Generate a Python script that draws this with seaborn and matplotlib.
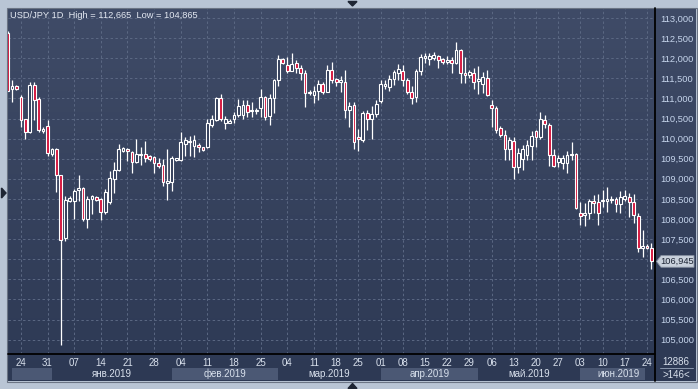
import numpy as np
import pandas as pd
import matplotlib
matplotlib.use("Agg")
import matplotlib.pyplot as plt
import matplotlib.transforms as mtransforms
from matplotlib.colors import LinearSegmentedColormap
from matplotlib.patches import Rectangle, Polygon
from matplotlib.lines import Line2D
import seaborn as sns

# daily USD/JPY bars (bar index 0..145)
opens = [112.63, 111.23, 111.30, 111.03, 110.49, 110.16, 111.33, 110.98, 110.20, 110.31,
         109.61, 109.74, 109.09, 107.52, 108.46, 108.44, 108.71, 108.76, 108.00, 108.49,
         108.54, 108.51, 108.18, 108.43, 108.99, 109.22, 109.70, 109.74, 109.67, 109.43,
         109.60, 109.62, 109.56, 109.55, 109.40, 109.34, 108.90, 108.93, 109.47, 109.47,
         109.87, 109.95, 109.82, 109.84, 109.78, 109.80, 110.35, 110.46, 111.00, 110.40,
         110.39, 110.50, 110.58, 110.59, 110.84, 110.68, 110.68, 110.75, 111.03, 110.56,
         111.00, 111.46, 111.97, 111.83, 111.69, 111.89, 111.75, 111.62, 111.13, 111.08,
         111.19, 111.36, 111.17, 111.71, 111.48, 111.40, 111.42, 110.71, 110.84, 110.03,
         109.97, 110.63, 110.50, 110.61, 110.94, 111.31, 111.28, 111.48, 111.64, 111.68,
         111.47, 111.17, 111.03, 111.69, 112.00, 111.98, 112.00, 112.05, 111.98, 111.91,
         111.95, 111.89, 112.20, 111.64, 111.58, 111.64, 111.43, 111.36, 111.50, 110.84,
         110.75, 110.26, 110.09, 109.73, 109.95, 109.30, 109.50, 109.60, 109.82, 110.20,
         110.05, 110.46, 110.34, 109.59, 109.43, 109.40, 109.39, 109.58, 109.61, 108.16,
         108.09, 108.14, 108.46, 108.42, 108.44, 108.44, 108.47, 108.49, 108.37, 108.51,
         108.54, 108.43, 108.07, 107.27, 107.33, 107.29]
highs = [112.665, 111.46, 111.33, 111.09, 110.50, 111.42, 111.42, 111.04, 110.30, 110.46,
         109.76, 109.76, 109.10, 108.57, 108.57, 108.74, 109.09, 108.80, 108.57, 108.60,
         108.57, 108.52, 108.74, 109.19, 109.41, 109.87, 109.80, 109.76, 109.70, 109.99,
         109.80, 109.95, 109.60, 109.57, 109.51, 109.49, 109.73, 109.57, 109.53, 110.16,
         110.03, 110.07, 110.09, 109.88, 109.80, 110.50, 110.58, 111.04, 111.10, 110.55,
         110.48, 110.65, 110.98, 110.96, 110.96, 110.90, 110.75, 111.23, 111.05, 111.10,
         111.48, 112.08, 112.00, 112.02, 112.14, 111.95, 111.83, 111.71, 111.21, 111.31,
         111.46, 111.40, 111.83, 111.91, 111.52, 111.56, 111.71, 110.90, 110.90, 110.23,
         110.69, 110.71, 110.80, 110.95, 111.46, 111.45, 111.58, 111.71, 111.86, 111.83,
         111.52, 111.31, 111.73, 112.10, 112.12, 112.12, 112.16, 112.07, 112.00, 112.05,
         112.04, 112.40, 112.22, 112.02, 111.71, 111.75, 111.80, 111.66, 111.71, 110.96,
         110.81, 110.31, 110.21, 110.05, 110.05, 109.76, 109.84, 109.97, 110.20, 110.21,
         110.67, 110.59, 110.38, 109.73, 109.59, 109.59, 109.70, 109.92, 109.64, 108.43,
         108.39, 108.49, 108.60, 108.62, 108.72, 108.80, 108.57, 108.54, 108.70, 108.72,
         108.64, 108.62, 108.14, 107.73, 107.38, 107.41]
lows = [111.19, 110.92, 111.20, 110.29, 110.00, 110.15, 110.46, 110.17, 110.15, 109.57,
        109.57, 108.66, 104.865, 107.46, 108.43, 107.99, 108.44, 107.96, 107.77, 108.12,
        108.44, 107.97, 108.12, 108.37, 108.65, 109.19, 109.66, 109.45, 109.14, 109.40,
        109.35, 109.43, 109.45, 109.15, 109.26, 108.82, 108.47, 108.70, 109.45, 109.45,
        109.57, 109.57, 109.55, 109.67, 109.69, 109.76, 110.30, 110.44, 110.45, 110.25,
        110.38, 110.40, 110.53, 110.48, 110.54, 110.54, 110.62, 110.54, 110.46, 110.34,
        110.63, 111.32, 111.86, 111.64, 111.67, 111.62, 111.46, 110.79, 111.08, 110.88,
        110.96, 111.12, 111.15, 111.38, 111.31, 111.17, 110.51, 110.30, 109.74, 109.70,
        109.92, 110.21, 110.00, 110.53, 110.88, 111.23, 111.19, 111.33, 111.47, 111.31,
        111.10, 110.86, 110.92, 111.58, 111.87, 111.83, 111.95, 111.75, 111.85, 111.85,
        111.64, 111.85, 111.38, 111.39, 111.50, 111.23, 111.10, 111.13, 111.06, 110.30,
        110.15, 110.05, 109.47, 109.47, 109.00, 109.14, 109.22, 109.47, 109.47, 109.78,
        110.00, 110.26, 109.32, 109.29, 109.30, 109.24, 109.15, 109.47, 108.24, 107.85,
        107.82, 107.99, 108.14, 107.85, 108.31, 108.18, 108.39, 108.18, 108.14, 108.45,
        108.06, 107.91, 107.19, 107.05, 107.25, 106.76]
closes = [111.19, 111.31, 111.24, 110.46, 110.16, 111.33, 110.96, 110.21, 110.25, 109.63,
          109.73, 109.09, 107.49, 108.47, 108.52, 108.70, 108.77, 107.99, 108.50, 108.56,
          108.47, 108.18, 108.68, 109.01, 109.22, 109.74, 109.77, 109.68, 109.41, 109.62,
          109.62, 109.51, 109.49, 109.39, 109.33, 108.93, 108.94, 109.51, 109.51, 109.91,
          109.97, 109.91, 109.97, 109.78, 109.72, 110.40, 110.49, 111.00, 110.50, 110.50,
          110.45, 110.59, 110.80, 110.84, 110.67, 110.71, 110.70, 111.03, 110.54, 111.00,
          111.46, 111.97, 111.89, 111.69, 111.86, 111.75, 111.62, 111.13, 111.17, 111.19,
          111.36, 111.17, 111.71, 111.47, 111.42, 111.45, 110.71, 110.80, 109.92, 109.98,
          110.63, 110.50, 110.61, 110.86, 111.35, 111.37, 111.48, 111.66, 111.72, 111.47,
          111.17, 111.00, 111.69, 112.04, 112.05, 112.05, 112.08, 111.95, 111.91, 111.95,
          111.87, 112.20, 111.64, 111.58, 111.65, 111.42, 111.48, 111.54, 111.08, 110.76,
          110.21, 110.10, 109.73, 109.97, 109.29, 109.63, 109.73, 109.84, 110.06, 110.05,
          110.48, 110.36, 109.59, 109.31, 109.51, 109.52, 109.59, 109.61, 108.27, 108.07,
          108.15, 108.46, 108.40, 108.14, 108.47, 108.51, 108.51, 108.37, 108.55, 108.57,
          108.43, 108.10, 107.27, 107.33, 107.28, 106.945]

# time axis: bar index of each weekly label and its day number
tick_bars = [3, 9, 15, 21, 27, 33, 39, 45, 51, 57, 63, 69, 74, 79, 84, 89, 94, 99,
             104, 109, 114, 119, 124, 129, 134, 139, 144]
tick_days = ["24", "31", "07", "14", "21", "28", "04", "11", "18", "25", "04", "11",
             "18", "25", "01", "08", "15", "22", "29", "06", "13", "20", "27", "03",
             "10", "17", "24"]
month_names = ["", "янв.2019", "фев.2019", "мар.2019", "апр.2019", "май.2019", "июн.2019"]
month_start = [1, 10, 37, 61, 84, 106, 129]
price_ticks = np.arange(105.0, 113.01, 0.5)
bars_visible = 146
volume_label = "12886"

df = pd.DataFrame({"open": opens, "high": highs, "low": lows, "close": closes})
df["bar"] = np.arange(len(df))
df["up"] = df["close"] >= df["open"]

sns.set_theme(style="dark")
plt.rcParams["font.family"] = ["Liberation Sans", "DejaVu Sans"]

W, H = 698, 389
def fx(px):
    return px / W
def fy(py):
    return 1 - py / H

fig = plt.figure(figsize=(W / 100, H / 100), dpi=100)
fig.patch.set_facecolor("#b9c5d5")

# navy gradient panel behind chart + price scale + time scale
bg = fig.add_axes([fx(8), fy(381), (696 - 8) / W, (381 - 8) / H])
grad = np.linspace(0, 1, 256).reshape(-1, 1)
cmap = LinearSegmentedColormap.from_list("bg", ["#3f4b67", "#2d3954"])
bg.imshow(grad, aspect="auto", cmap=cmap, extent=[0, 1, 0, 1], origin="upper")
bg.set_axis_off()

ymin, ymax = 104.642, 113.249
ax = fig.add_axes([fx(8), fy(354), 647 / W, 346 / H])
ax.set_facecolor("none")
ax.set_xlim(0.1, 145.8)
ax.set_ylim(ymin, ymax)

last = closes[-1]
ax.set_yticks(price_ticks)
# the tick nearest to the last-price marker is hidden behind it
ax.set_yticklabels(["" if abs(v - last) < 0.25 else f"{v:.3f}".replace(".", ",")
                    for v in price_ticks])
ax.yaxis.tick_right()
ax.set_xticks(tick_bars)
ax.set_xticklabels(tick_days)
ax.grid(True, color="#5b6883", linestyle=(0, (2.5, 2.5)), linewidth=0.7)
ax.tick_params(axis="y", length=0, pad=4, labelsize=6.7, labelcolor="#c6d5ec")
ax.tick_params(axis="x", length=0, pad=3, labelsize=7.0, labelcolor="#d8e0ec")
for s in ax.spines.values():
    s.set_visible(False)

# candles
bw = 0.62
top = df[["open", "close"]].max(axis=1)
bot = df[["open", "close"]].min(axis=1)
ax.vlines(df["bar"], top, df["high"], color="white", lw=0.9, zorder=3)
ax.vlines(df["bar"], df["low"], bot, color="white", lw=0.9, zorder=3)
for b, t, lo, up in zip(df["bar"], top, bot, df["up"]):
    face = "#2f3b57" if up else "#d4143c"
    ax.add_patch(Rectangle((b - bw / 2, lo), bw, max(t - lo, 0.015),
                           facecolor=face, edgecolor="white", lw=0.8, zorder=4))

# month bands under the day labels
tr = mtransforms.blended_transform_factory(ax.transData, fig.transFigure)
month_end = month_start[1:] + [bars_visible]
for i, (m, s, e) in enumerate(zip(month_names, month_start, month_end)):
    if i % 2 == 0:
        ax.add_patch(Rectangle((s, fy(380)), min(e, 143.5) - s, 12 / H, transform=tr,
                               facecolor="#4b5874", edgecolor="none", clip_on=False))
    if m:
        ax.text((s + e) / 2, fy(374), m, transform=tr, ha="center", va="center",
                fontsize=7.0, color="#d8e0ec", clip_on=False)

# separating lines
fig.add_artist(Line2D([fx(8), fx(655)], [fy(354), fy(354)], color="black", lw=1.3))
fig.add_artist(Line2D([fx(655), fx(655)], [fy(8), fy(381)], color="black", lw=1.3))
fig.add_artist(Rectangle((fx(7.5), fy(381.5)), 689 / W, 374 / H, transform=fig.transFigure,
                         facecolor="none", edgecolor="#6b7484", lw=0.8))

# title
title = "USD/JPY 1D  High = {}  Low = {}".format(
    f"{max(highs):.3f}".replace(".", ","), f"{min(lows):.3f}".replace(".", ","))
fig.text(fx(10), fy(15), title, fontsize=6.7, color="#e4e9f2", va="center", ha="left")

# last price marker
ptr = mtransforms.blended_transform_factory(fig.transFigure, ax.transData)
hh = 5.8 / 346 * (ymax - ymin)
ax.add_patch(Polygon([(fx(656.5), last), (fx(661), last + hh), (fx(694), last + hh),
                      (fx(694), last - hh), (fx(661), last - hh)], closed=True,
                     transform=ptr, facecolor="#c9d1dc", edgecolor="#8a94a4", lw=0.6,
                     clip_on=False, zorder=6))
ax.text(fx(677.5), last, f"{last:.3f}".replace(".", ","), transform=ptr, ha="center",
        va="center", fontsize=6.7, color="#1c2434", clip_on=False, zorder=7)

# bottom-right counters
fig.text(fx(676), fy(362), volume_label, fontsize=7.0, color="#d8e0ec", ha="center", va="center")
fig.add_artist(Line2D([fx(660), fx(693)], [fy(368), fy(368)], color="#8a97ad", lw=0.7))
fig.text(fx(676), fy(375), f">{bars_visible}<", fontsize=7.0, color="#d8e0ec", ha="center", va="center")

# little scroll arrows on the frame
dark = "#1e2533"
fig.add_artist(Polygon([(fx(348), fy(1.5)), (fx(357), fy(1.5)), (fx(352.5), fy(6))],
                       closed=True, transform=fig.transFigure, color=dark))
fig.add_artist(Polygon([(fx(348), fy(388.5)), (fx(357), fy(388.5)), (fx(352.5), fy(383.5))],
                       closed=True, transform=fig.transFigure, color=dark))
fig.add_artist(Polygon([(fx(1.5), fy(188)), (fx(1.5), fy(198)), (fx(6), fy(193))],
                       closed=True, transform=fig.transFigure, color=dark))

fig.savefig("out.png", dpi=100, facecolor=fig.get_facecolor())
